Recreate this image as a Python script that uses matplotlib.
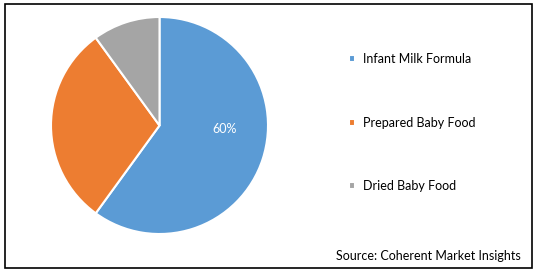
import matplotlib.pyplot as plt
from matplotlib.patches import Rectangle

# shares of the baby food market
labels = ["Infant Milk Formula", "Prepared Baby Food", "Dried Baby Food"]
shares = [60, 30, 10]
colors = ["#5B9BD5", "#ED7D31", "#A5A5A5"]

plt.rcParams['font.family'] = ['Lato', 'DejaVu Sans']

fig = plt.figure(figsize=(5.38, 2.72), dpi=100)

# outer frame
fig.patches.append(Rectangle((5 / 538, 4 / 272), 527 / 538, 264 / 272,
                             transform=fig.transFigure, fill=False,
                             edgecolor="black", linewidth=1.2))

ax = fig.add_axes([51 / 538, 38 / 272, 217 / 538, 217 / 272])
wedges, _ = ax.pie(shares, colors=colors, startangle=90, counterclock=False,
                   wedgeprops=dict(edgecolor="white", linewidth=1.5))
# only the biggest slice gets a label, placed like the original
ax.text(0.6, -0.03, f"{shares[0]}%", ha="center", va="center",
        color="white", fontsize=9)
ax.set_xlim(-1.0, 1.0)
ax.set_ylim(-1.0, 1.0)
ax.set_aspect("equal")

fig.legend(wedges, labels, loc="center left",
           bbox_to_anchor=(344 / 538, 1 - 122.5 / 272),
           frameon=False, fontsize=9, handlelength=0.5, handleheight=0.5,
           handletextpad=0.6, labelspacing=4.1, borderaxespad=0)

fig.text(521 / 538, 1 - 256 / 272, "Source: Coherent Market Insights",
         ha="right", va="center", fontsize=9)

fig.savefig("out.png", dpi=100)
